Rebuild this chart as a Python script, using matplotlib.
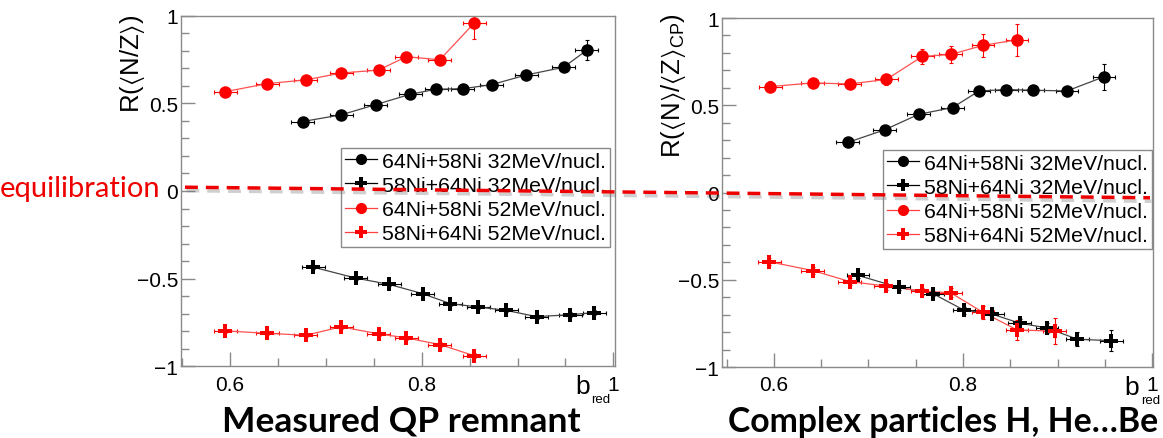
import matplotlib
matplotlib.use("Agg")
import matplotlib.pyplot as plt
import matplotlib.patheffects as pe
from matplotlib.lines import Line2D
from matplotlib.ticker import MultipleLocator

plt.rcParams['font.family'] = ['Liberation Sans', 'DejaVu Sans']
plt.rcParams['mathtext.fontset'] = 'custom'
plt.rcParams['mathtext.rm'] = 'Liberation Sans'
plt.rcParams['mathtext.fallback'] = 'stixsans'
plt.rcParams['axes.unicode_minus'] = True

labels = ["64Ni+58Ni 32MeV/nucl.", "58Ni+64Ni 32MeV/nucl.",
          "64Ni+58Ni 52MeV/nucl.", "58Ni+64Ni 52MeV/nucl."]
xtick_vals = [0.6, 0.8, 1.0]
xtick_text = ["0.6", "0.8", "1"]
ytick_vals = [-1, -0.5, 0, 0.5, 1]
ytick_text = ["\u22121", "\u22120.5", "0", "0.5", "1"]

# left: measured QP remnant, R(<N/Z>)
qp_b_32 = [0.676, 0.716, 0.752, 0.788, 0.815, 0.843, 0.873, 0.909, 0.948, 0.972]
qp_6458_32 = [0.396, 0.434, 0.492, 0.551, 0.580, 0.583, 0.606, 0.661, 0.705, 0.801]
qp_6458_32_err = [0.01, 0.01, 0.01, 0.01, 0.01, 0.01, 0.012, 0.012, 0.015, 0.057]
qp_b_32x = [0.687, 0.731, 0.766, 0.801, 0.830, 0.859, 0.888, 0.920, 0.955, 0.980]
qp_5864_32 = [-0.434, -0.496, -0.532, -0.585, -0.642, -0.661, -0.680, -0.716, -0.705, -0.693]
qp_5864_32_err = [0.01, 0.01, 0.01, 0.01, 0.012, 0.012, 0.012, 0.012, 0.015, 0.015]
qp_b_52 = [0.595, 0.639, 0.679, 0.716, 0.755, 0.784, 0.819, 0.855]
qp_6458_52 = [0.566, 0.612, 0.633, 0.672, 0.689, 0.765, 0.748, 0.958]
qp_6458_52_err = [0.01, 0.01, 0.01, 0.01, 0.012, 0.015, 0.015, 0.09]
qp_5864_52 = [-0.797, -0.811, -0.822, -0.774, -0.814, -0.837, -0.875, -0.939]
qp_5864_52_err = [0.01, 0.01, 0.01, 0.012, 0.012, 0.012, 0.015, 0.015]

# right: complex particles, R(<N>/<Z>_CP)
cp_b_32 = [0.678, 0.717, 0.753, 0.789, 0.817, 0.846, 0.874, 0.910, 0.949]
cp_6458_32 = [0.287, 0.359, 0.448, 0.487, 0.582, 0.590, 0.586, 0.582, 0.663]
cp_6458_32_err = [0.01, 0.012, 0.012, 0.015, 0.015, 0.015, 0.02, 0.03, 0.074]
cp_b_32x = [0.689, 0.732, 0.768, 0.801, 0.831, 0.860, 0.889, 0.921, 0.957]
cp_5864_32 = [-0.475, -0.544, -0.579, -0.674, -0.697, -0.749, -0.776, -0.841, -0.849]
cp_5864_32_err = [0.015, 0.015, 0.015, 0.02, 0.02, 0.025, 0.03, 0.04, 0.06]
cp_b_52 = [0.596, 0.641, 0.680, 0.719, 0.757, 0.787, 0.821, 0.857]
cp_6458_52 = [0.607, 0.628, 0.622, 0.648, 0.780, 0.791, 0.843, 0.875]
cp_6458_52_err = [0.03, 0.03, 0.03, 0.03, 0.043, 0.05, 0.067, 0.093]
cp_b_52x = [0.595, 0.641, 0.680, 0.718, 0.757, 0.787, 0.821, 0.857, 0.897]
cp_5864_52 = [-0.397, -0.447, -0.510, -0.536, -0.565, -0.575, -0.686, -0.787, -0.795]
cp_5864_52_err = [0.02, 0.02, 0.02, 0.02, 0.02, 0.025, 0.038, 0.057, 0.074]

XERR = 0.012
GRAY = '#8a8a8a'


def draw_series(ax, x, y, yerr, color, marker, ms, lcolor):
    ax.errorbar(x, y, yerr=yerr, xerr=XERR, fmt='none', ecolor=color,
                elinewidth=0.8, capsize=1.5, capthick=0.8, zorder=2)
    ax.plot(x, y, color=lcolor, lw=0.9, zorder=3)
    ax.plot(x, y, ls='none', marker=marker, ms=ms, color=color,
            markeredgewidth=0, zorder=4)


def style_axis(ax, xlim):
    ax.set_xlim(*xlim)
    ax.set_ylim(-1, 1)
    for s in ax.spines.values():
        s.set_color(GRAY)
        s.set_linewidth(1.0)
    ax.set_xticks(xtick_vals)
    ax.set_xticklabels(xtick_text)
    ax.set_yticks(ytick_vals)
    ax.set_yticklabels(ytick_text)
    ax.xaxis.set_minor_locator(MultipleLocator(0.05))
    ax.yaxis.set_minor_locator(MultipleLocator(0.1))
    ax.tick_params(which='both', direction='in', color=GRAY, width=1.0,
                   labelsize=15, top=False, right=False)
    ax.tick_params(which='major', length=10)
    ax.tick_params(which='minor', length=6)
    ax.tick_params(axis='y', pad=2)
    ax.tick_params(axis='x', pad=6)


def add_legend(ax, anchor):
    handles = [
        Line2D([], [], color='black', lw=0.9, marker='o', ms=8, markeredgewidth=0),
        Line2D([], [], color='black', lw=0.9, marker='P', ms=8, markeredgewidth=0),
        Line2D([], [], color='#ff4040', lw=0.9, marker='o', ms=8, mfc='red', markeredgewidth=0),
        Line2D([], [], color='#ff4040', lw=0.9, marker='P', ms=8, mfc='red', markeredgewidth=0),
    ]
    leg = ax.legend(handles, labels, loc='upper right', bbox_to_anchor=anchor,
                    fontsize=15.3, frameon=True, fancybox=False, framealpha=1,
                    edgecolor=GRAY, handlelength=1.5, handletextpad=0.25,
                    labelspacing=0.24, borderpad=0.18, borderaxespad=0)
    leg.get_frame().set_linewidth(1.0)
    leg.set_zorder(5)


def add_bred(ax, xb):
    # ROOT puts the axis title at the right end of the axis
    ax.text(xb, -0.076, "b", ha='right', va='baseline', fontsize=19,
            transform=ax.transAxes)
    ax.text(xb + 0.003, -0.102, "red", ha='left', va='baseline', fontsize=9.5,
            transform=ax.transAxes)


fig = plt.figure(figsize=(11.63, 4.39), dpi=100)
ax1 = fig.add_axes([0.1556, 0.1629, 0.3732, 0.7995])
ax2 = fig.add_axes([0.6208, 0.1617, 0.3706, 0.7950])

draw_series(ax1, qp_b_32, qp_6458_32, qp_6458_32_err, 'black', 'o', 9, '#444444')
draw_series(ax1, qp_b_32x, qp_5864_32, qp_5864_32_err, 'black', 'P', 9.5, '#444444')
draw_series(ax1, qp_b_52, qp_6458_52, qp_6458_52_err, 'red', 'o', 9, '#ff5050')
draw_series(ax1, qp_b_52, qp_5864_52, qp_5864_52_err, 'red', 'P', 9.5, '#ff5050')

draw_series(ax2, cp_b_32, cp_6458_32, cp_6458_32_err, 'black', 'o', 9, '#444444')
draw_series(ax2, cp_b_32x, cp_5864_32, cp_5864_32_err, 'black', 'P', 9.5, '#444444')
draw_series(ax2, cp_b_52, cp_6458_52, cp_6458_52_err, 'red', 'o', 9, '#ff5050')
draw_series(ax2, cp_b_52x, cp_5864_52, cp_5864_52_err, 'red', 'P', 9.5, '#ff5050')

style_axis(ax1, (0.5489, 1.0017))
style_axis(ax2, (0.545, 1.001))
add_legend(ax1, (0.988, 0.6225))
add_legend(ax2, (0.998, 0.622))

ax1.text(-0.112, 1.004, r"R($\langle$N/Z$\rangle$)", rotation=90, ha='center', va='top',
         fontsize=18.5, transform=ax1.transAxes)
ax2.text(-0.112, 1.017, r"R($\langle$N$\rangle$/$\langle$Z$\rangle_{\mathrm{CP}}$)", rotation=90,
         ha='center', va='top', fontsize=18.5, transform=ax2.transAxes)
add_bred(ax1, 0.9424)
add_bred(ax2, 0.9685)

# equilibration line across both panels
eq = Line2D([0.1591, 0.9888], [0.5713, 0.5472], transform=fig.transFigure,
            color='#ee0000', lw=2.5, dashes=(3.7, 2.3), zorder=10,
            path_effects=[pe.SimpleLineShadow(offset=(1, -2.5), shadow_color='#777777', alpha=0.35),
                          pe.Normal()])
fig.add_artist(eq)
fig.text(0.0, 0.5513, "equilibration", color='#ee0000', fontsize=21,
         family=['Lato', 'DejaVu Sans'], ha='left', va='baseline')

fig.text(0.3448, 0.016, "Measured QP remnant", fontsize=25.5, fontweight='bold',
         family=['Lato', 'DejaVu Sans'], ha='center', va='baseline')
fig.text(0.8108, 0.016, "Complex particles H, He\u2026Be", fontsize=24.3, fontweight='bold',
         family=['Lato', 'DejaVu Sans'], ha='center', va='baseline')

fig.savefig("out.png", dpi=100)
